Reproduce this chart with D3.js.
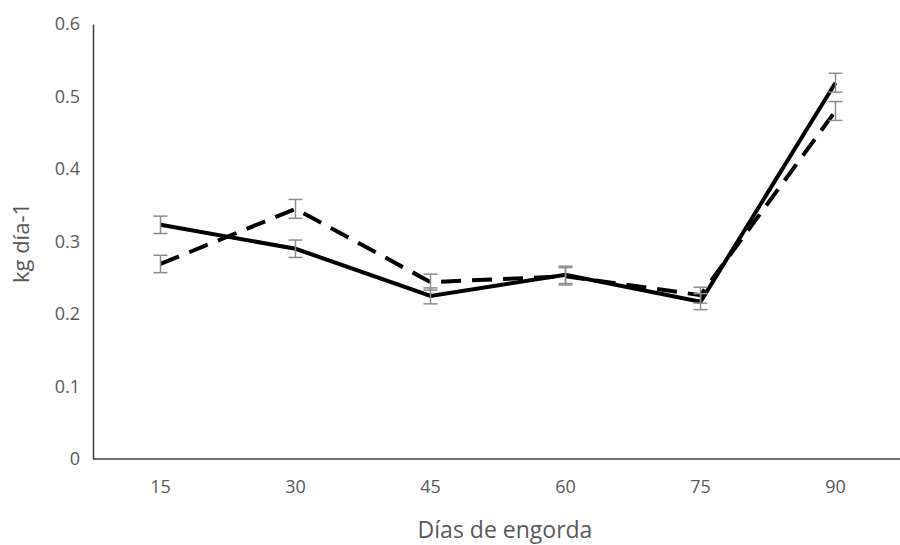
<!DOCTYPE html>
<html>
<head>
<meta charset="utf-8">
<script src="https://cdn.jsdelivr.net/npm/d3@7"></script>
<style>
  body { margin: 0; background: #fff; }
  text { font-family: "Open Sans", "Noto Sans", sans-serif; fill: #595959; }
</style>
</head>
<body>
<svg id="chart" width="900" height="545"></svg>
<script>
const days = ['15', '30', '45', '60', '75', '90'];
const solidValues = [0.323, 0.290, 0.225, 0.254, 0.217, 0.519];
const solidErr = [0.012, 0.012, 0.011, 0.012, 0.011, 0.013];
const dashedValues = [0.269, 0.345, 0.244, 0.252, 0.226, 0.480];
const dashedErr = [0.012, 0.013, 0.011, 0.012, 0.011, 0.013];
const yTicks = [0, 0.1, 0.2, 0.3, 0.4, 0.5, 0.6];

const svg = d3.select('#chart');
const margin = { left: 93, right: -3, top: 24, bottom: 86 };
const width = 900 - margin.left - margin.right;
const height = 545 - margin.top - margin.bottom;

const g = svg.append('g').attr('transform', `translate(${margin.left},${margin.top})`);

const x = d3.scaleBand().domain(days).range([0, width]);
const y = d3.scaleLinear().domain([0, 0.6]).range([height, 0]);

// axes
const yAxis = g.append('g')
  .call(d3.axisLeft(y).tickValues(yTicks).tickSize(0).tickPadding(13).tickFormat(d => d === 0 ? '0' : d3.format('.1f')(d)));
yAxis.select('.domain').attr('stroke', '#404040').attr('stroke-width', 1.5);
yAxis.selectAll('text').style('font-size', '18px');

const xAxis = g.append('g')
  .attr('transform', `translate(0,${height})`)
  .call(d3.axisBottom(x).tickSize(0).tickPadding(21));
xAxis.select('.domain').attr('stroke', '#404040').attr('stroke-width', 1.5)
  .attr('d', `M0,0H${width - 2}`);
xAxis.selectAll('text').style('font-size', '18px');

// lines
const line = vals => d3.line()
  .x((d, i) => x(days[i]) + x.bandwidth() / 2)
  .y(d => y(d))(vals);

g.append('path')
  .attr('d', line(dashedValues))
  .attr('fill', 'none')
  .attr('stroke', '#000')
  .attr('stroke-width', 4)
  .attr('stroke-dasharray', '20,11');

g.append('path')
  .attr('d', line(solidValues))
  .attr('fill', 'none')
  .attr('stroke', '#000')
  .attr('stroke-width', 4);

// error bars
function errorBars(vals, errs) {
  const eb = g.append('g').attr('stroke', '#8c8c8c').attr('stroke-width', 1.5);
  vals.forEach((v, i) => {
    const cx = x(days[i]) + x.bandwidth() / 2;
    const y0 = y(v - errs[i]), y1 = y(v + errs[i]);
    eb.append('line').attr('x1', cx).attr('x2', cx).attr('y1', y0).attr('y2', y1);
    eb.append('line').attr('x1', cx - 7).attr('x2', cx + 7).attr('y1', y0).attr('y2', y0);
    eb.append('line').attr('x1', cx - 7).attr('x2', cx + 7).attr('y1', y1).attr('y2', y1);
  });
}
errorBars(dashedValues, dashedErr);
errorBars(solidValues, solidErr);

// titles
svg.append('text')
  .attr('transform', `translate(29,243) rotate(-90)`)
  .attr('text-anchor', 'middle')
  .style('font-size', '22px')
  .text('kg día-1');

svg.append('text')
  .attr('x', 505)
  .attr('y', 538)
  .attr('text-anchor', 'middle')
  .style('font-size', '23px')
  .text('Días de engorda');
</script>
</body>
</html>
